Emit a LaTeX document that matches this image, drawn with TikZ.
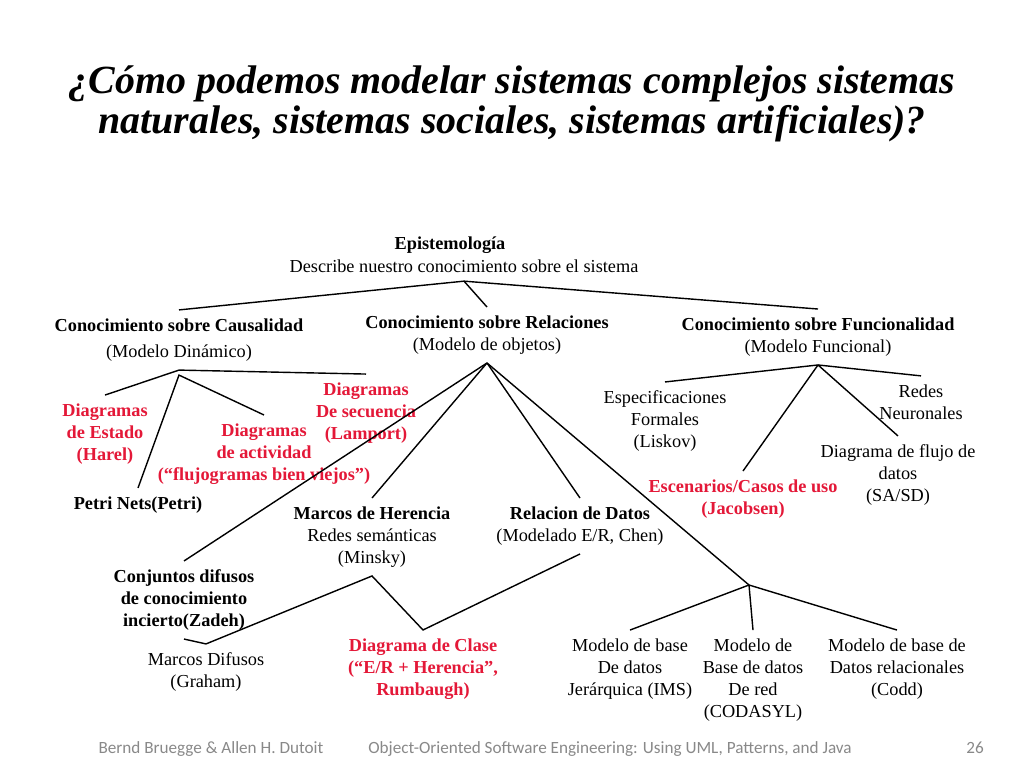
\documentclass[tikz,border=0pt]{standalone}
\usepackage{fontspec}
\setmainfont{Liberation Serif}
\newfontfamily\footfont{Carlito}
\usetikzlibrary{calc}
\definecolor{modelRed}{RGB}{228,24,56}
\definecolor{footGray}{RGB}{137,137,137}

\begin{document}
\begin{tikzpicture}[x=0.025cm, y=-0.025cm,
    box/.style={align=center, inner sep=6pt, font=\fontsize{13}{15.6}\selectfont},
    hdr/.style={box, font=\fontsize{13}{15.6}\selectfont\bfseries},
    hot/.style={hdr, text=modelRed},
    title/.style={align=center, inner sep=0pt,
                  font=\fontsize{28.4}{28}\selectfont\bfseries\itshape},
    link/.style={line width=1pt},
    foot/.style={anchor=base, inner sep=0pt, text=footGray,
                 font=\footfont\fontsize{12.2}{14}\selectfont}
  ]
  \useasboundingbox (0,0) rectangle (1024,768);
  \fill[white] (0,0) rectangle (1024,768);

  \node[title] (title) at (512,104)
    {¿Cómo podemos modelar sistemas complejos sistemas\\naturales, sistemas sociales, sistemas artificiales)?};

  % Root
  \node[hdr] (epi)     at (450,245) {Epistemología};
  \node[box] (epidesc) at (464,266) {Describe nuestro conocimiento sobre el sistema};

  % Three kinds of knowledge
  \node[hdr] (causal) at (179,340) {Conocimiento sobre Causalidad\\[3pt]{\mdseries (Modelo Dinámico)}};
  \node[hdr] (relac)  at (487,335) {Conocimiento sobre Relaciones\\{\mdseries (Modelo de objetos)}};
  \node[hdr] (func)   at (818,337) {Conocimiento sobre Funcionalidad\\{\mdseries (Modelo Funcional)}};
  \draw[link] (epidesc.south) -- (causal.north);
  \draw[link] (epidesc.south) -- (relac.north);
  \draw[link] (epidesc.south) -- (func.north);

  % Causalidad
  \node[hot] (estado)    at (105,434) {Diagramas\\de Estado\\(Harel)};
  \node[hot] (actividad) at (264,454) {Diagramas\\de actividad\\(“flujogramas bien viejos”)};
  \node[hot] (secuencia) at (366,413) {Diagramas\\De secuencia\\(Lamport)};
  \node[hdr] (petri)     at (138,505) {Petri Nets(Petri)};
  \coordinate (causalB) at ($(causal.south)+(0,5)$);
  \draw[link] (estado.north) -- (causal.south) -- (secuencia.north);
  \draw[link] (petri.north) -- (causalB) -- (actividad.north);

  % Relaciones
  \node[hdr] (herencia) at (372,537) {Marcos de Herencia\\{\mdseries Redes semánticas}\\{\mdseries (Minsky)}};
  \node[hdr] (relacion) at (580,526) {Relacion de Datos\\{\mdseries (Modelado E/R, Chen)}};
  \node[hdr] (conj)     at (184,600) {Conjuntos difusos\\de conocimiento\\incierto(Zadeh)};
  \node[box] (difusos)  at (206,672) {Marcos Difusos\\(Graham)};
  \node[hot] (clase)    at (423,669) {Diagrama de Clase\\(“E/R + Herencia”,\\Rumbaugh)};
  \coordinate (dbfork) at (749,585);
  \draw[link] (relac.south) -- (conj.north);
  \draw[link] (relac.south) -- (herencia.north);
  \draw[link] (relac.south) -- (relacion.north);
  \draw[link] (relac.south) -- (dbfork);
  \draw[link] (conj.south) -- (difusos.north) -- (herencia.south) -- (clase.north) -- (relacion.south);

  % Bases de datos
  \node[box] (ims)     at (630,669) {Modelo de base\\De datos\\Jerárquica (IMS)};
  \node[box] (codasyl) at (753,680) {Modelo de\\Base de datos\\De red\\(CODASYL)};
  \node[box] (codd)    at (897,669) {Modelo de base de\\Datos relacionales\\(Codd)};
  \draw[link] (dbfork) -- (ims.north);
  \draw[link] (dbfork) -- (codasyl.north);
  \draw[link] (dbfork) -- (codd.north);

  % Funcionalidad
  \node[box] (espec) at (665,421) {Especificaciones\\Formales\\(Liskov)};
  \node[box] (redes) at (921,402) {Redes\\Neuronales};
  \node[box] (flujo) at (898,475) {Diagrama de flujo de\\datos\\(SA/SD)};
  \node[hot] (escen) at (743,499) {Escenarios/Casos de uso\\(Jacobsen)};
  \draw[link] (espec.north) -- (func.south) -- (redes.north);
  \draw[link] (func.south) -- (escen.north);
  \draw[link] (func.south) -- (flujo.north);

  % Footer
  \node[foot] (authors) at (211,753) {Bernd Bruegge \& Allen H. Dutoit};
  \node[foot] (book)    at (610,753) {Object-Oriented Software Engineering: Using UML, Patterns, and Java};
  \node[foot] (page)    at (975,753) {26};
\end{tikzpicture}
\end{document}
